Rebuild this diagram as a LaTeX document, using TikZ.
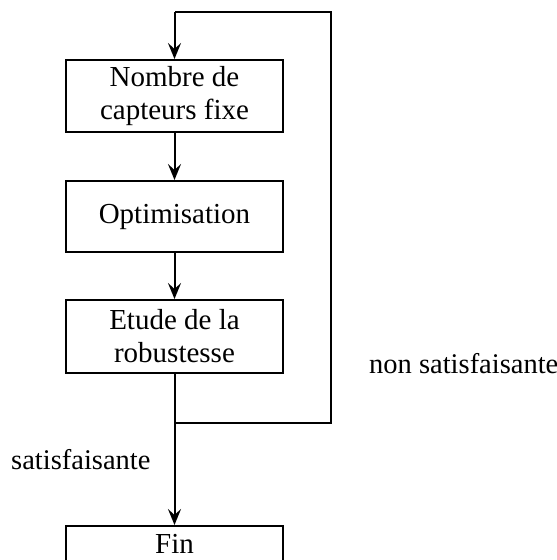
\documentclass[tikz,border=0pt]{standalone}
\usepackage{fontspec}
\setmainfont{Liberation Serif}
\usetikzlibrary{arrows.meta}
\begin{document}
\begin{tikzpicture}[x=1pt,y=-1pt,
  box/.style={draw, line width=2pt, minimum width=217pt, inner sep=0pt, align=center,
    font=\fontsize{29}{33}\selectfont},
  lbl/.style={inner sep=0pt, font=\fontsize{28.5}{33}\selectfont},
  conn/.style={line width=2pt, -{Stealth[length=16pt,width=13pt,inset=6pt]}},
  wire/.style={line width=2pt}]
\useasboundingbox (0,0) rectangle (557,560);
\node[box, minimum height=72pt] (b1) at (174.5,96) {Nombre de\\capteurs fixe};
\node[box, minimum height=71pt] (b2) at (174.5,216.5) {Optimisation};
\node[box, minimum height=73pt] (b3) at (174.5,336.5) {Etude de la\\robustesse};
\node[draw, line width=2pt, minimum width=217pt, minimum height=72pt, inner sep=0pt, anchor=north] (b4) at (174.5,525) {};
\node[lbl, anchor=base, font=\fontsize{29}{33}\selectfont] (fin) at (174.5,553) {Fin};
\coordinate (j) at (174.5,423);
\coordinate (jr) at (331,423);
\coordinate (tr) at (331,12);
\coordinate (tl) at (174.5,12);
\draw[conn] (b1) -- (b2);
\draw[conn] (b2) -- (b3);
\draw[conn] (b3) -- (b4);
\draw[wire] (j) -- (jr) -- (tr) -- (tl);
\draw[conn] (tl) -- (b1);
\node[lbl, anchor=base west] (ns) at (369,373) {non satisfaisante};
\node[lbl, anchor=base west] (s) at (11,469) {satisfaisante};
\end{tikzpicture}
\end{document}
